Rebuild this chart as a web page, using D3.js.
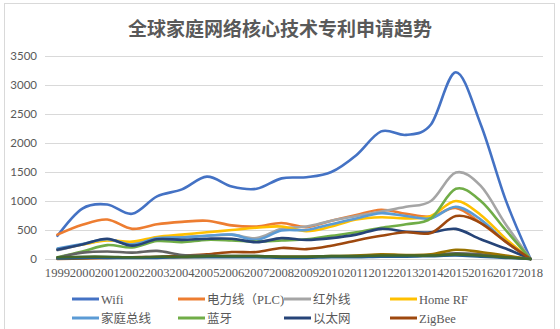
<!DOCTYPE html>
<html>
<head>
<meta charset="utf-8">
<script src="https://cdn.jsdelivr.net/npm/d3@7"></script>
<style>
  html, body { margin: 0; padding: 0; background: #fff; }
  svg { display: block; }
  .serif { font-family: "Liberation Serif", "Times New Roman", "DejaVu Serif", serif; }
  .legend-text { font-family: "Liberation Serif", "Times New Roman", "Noto Sans CJK SC", serif; }
</style>
</head>
<body>
<svg id="chart" width="560" height="329"></svg>
<script>
// Patent filing counts per year for home-network core technologies
const years = ["1999","2000","2001","2002","2003","2004","2005","2006","2007","2008",
               "2009","2010","2011","2012","2013","2014","2015","2016","2017","2018"];

const wifi     = [400, 870, 940, 780, 1080, 1200, 1420, 1250, 1210, 1390, 1410, 1500, 1790, 2200, 2140, 2320, 3220, 2320, 1020, 0];
const plc      = [420, 590, 680, 520, 600, 640, 660, 580, 560, 620, 550, 660, 760, 850, 780, 730, 880, 620, 300, 0];
const infrared = [150, 250, 330, 270, 370, 380, 400, 420, 360, 520, 560, 660, 740, 820, 900, 1000, 1490, 1260, 600, 0];
const homeRF   = [170, 250, 320, 300, 380, 420, 460, 500, 540, 560, 480, 560, 680, 720, 700, 740, 1000, 760, 350, 0];
const homeBus  = [180, 260, 340, 250, 360, 370, 400, 420, 330, 490, 500, 600, 700, 790, 740, 700, 900, 680, 300, 0];
const bluetooth= [30, 130, 240, 200, 310, 290, 330, 320, 300, 320, 340, 400, 460, 540, 600, 700, 1210, 1000, 500, 0];
const ethernet = [160, 250, 350, 230, 340, 330, 350, 350, 290, 360, 330, 360, 420, 520, 470, 460, 520, 340, 180, 0];
const zigbee   = [0, 10, 20, 30, 40, 60, 80, 120, 120, 190, 170, 230, 320, 400, 460, 450, 740, 620, 300, 0];
const uwb      = [20, 110, 130, 110, 140, 70, 60, 50, 50, 40, 40, 40, 50, 60, 60, 70, 100, 80, 40, 0];
const zwave    = [10, 20, 30, 30, 30, 30, 40, 40, 40, 40, 40, 50, 60, 80, 70, 80, 160, 120, 60, 0];
const hpna     = [10, 20, 20, 20, 20, 30, 30, 30, 30, 20, 20, 30, 30, 40, 40, 50, 60, 40, 20, 0];
const ieee1394 = [30, 40, 40, 30, 40, 40, 50, 50, 50, 40, 40, 50, 50, 60, 60, 60, 80, 60, 30, 0];

const yTicks = [0, 500, 1000, 1500, 2000, 2500, 3000, 3500];

const series = [
  { name: "Wifi",        values: wifi,      color: "#4472C4", legend: true },
  { name: "电力线（PLC)", values: plc,       color: "#ED7D31", legend: true },
  { name: "红外线",       values: infrared,  color: "#A5A5A5", legend: true },
  { name: "Home RF",     values: homeRF,    color: "#FFC000", legend: true },
  { name: "家庭总线",     values: homeBus,   color: "#5B9BD5", legend: true },
  { name: "蓝牙",         values: bluetooth, color: "#70AD47", legend: true },
  { name: "以太网",       values: ethernet,  color: "#264478", legend: true },
  { name: "ZigBee",      values: zigbee,    color: "#9E480E", legend: true },
  { name: "UWB",         values: uwb,       color: "#636363", legend: false },
  { name: "Z-Wave",      values: zwave,     color: "#997300", legend: false },
  { name: "HomePNA",     values: hpna,      color: "#255E91", legend: false },
  { name: "IEEE1394",    values: ieee1394,  color: "#43682B", legend: false }
];

const svg = d3.select("#chart");
const plot = { left: 45, right: 543, top: 56, bottom: 259 };

// chart frame
svg.append("rect")
  .attr("x", 4.5).attr("y", 3.5)
  .attr("width", 550).attr("height", 340)
  .attr("fill", "#fff").attr("stroke", "#D9D9D9").attr("stroke-width", 1);

// title
svg.append("text")
  .attr("x", 280).attr("y", 36)
  .attr("text-anchor", "middle")
  .style("font-family", "'Noto Sans CJK SC', sans-serif")
  .attr("font-weight", "bold")
  .attr("font-size", 19)
  .attr("fill", "#595959")
  .text("全球家庭网络核心技术专利申请趋势");

const x = d3.scaleBand().domain(years).range([plot.left, plot.right]);
const y = d3.scaleLinear().domain([0, 3500]).range([plot.bottom, plot.top]);

// gridlines + y axis
const yAxis = d3.axisLeft(y).tickValues(yTicks).tickFormat(d3.format("d"))
  .tickSize(-(plot.right - plot.left)).tickPadding(8);
const gy = svg.append("g").attr("transform", `translate(${plot.left},0)`).call(yAxis);
gy.select(".domain").remove();
gy.selectAll(".tick line").attr("stroke", "#D9D9D9").attr("stroke-width", 1);
gy.selectAll(".tick text")
  .style("font-family", "Lato, 'Liberation Sans', sans-serif")
  .attr("font-size", 11.5)
  .attr("fill", "#595959");

// x axis labels
const xAxis = d3.axisBottom(x).tickSize(0).tickPadding(9);
const gx = svg.append("g").attr("transform", `translate(0,${plot.bottom})`).call(xAxis);
gx.select(".domain").remove();
gx.selectAll(".tick text")
  .attr("class", "serif")
  .attr("font-size", 12.6)
  .attr("fill", "#595959");

// series lines
const line = d3.line()
  .x((d, i) => x(years[i]) + x.bandwidth() / 2)
  .y(d => y(d))
  .curve(d3.curveCardinal.tension(0));

svg.append("g").selectAll("path")
  .data(series)
  .join("path")
  .attr("d", d => line(d.values))
  .attr("fill", "none")
  .attr("stroke", d => d.color)
  .attr("stroke-width", 2.6)
  .attr("stroke-linejoin", "round")
  .attr("stroke-linecap", "round");

// legend
const legendItems = series.filter(d => d.legend);
const lg = svg.append("g");
const item = lg.selectAll("g")
  .data(legendItems)
  .join("g")
  .attr("transform", (d, i) => `translate(${72 + (i % 4) * 106},${i < 4 ? 299 : 318})`);
item.append("line")
  .attr("x1", 0).attr("x2", 27).attr("y1", 0).attr("y2", 0)
  .attr("stroke", d => d.color).attr("stroke-width", 3);
item.append("text")
  .attr("class", "legend-text")
  .attr("x", 29).attr("y", 4.5)
  .attr("font-size", 12.5)
  .attr("fill", "#595959")
  .text(d => d.name);
</script>
</body>
</html>
